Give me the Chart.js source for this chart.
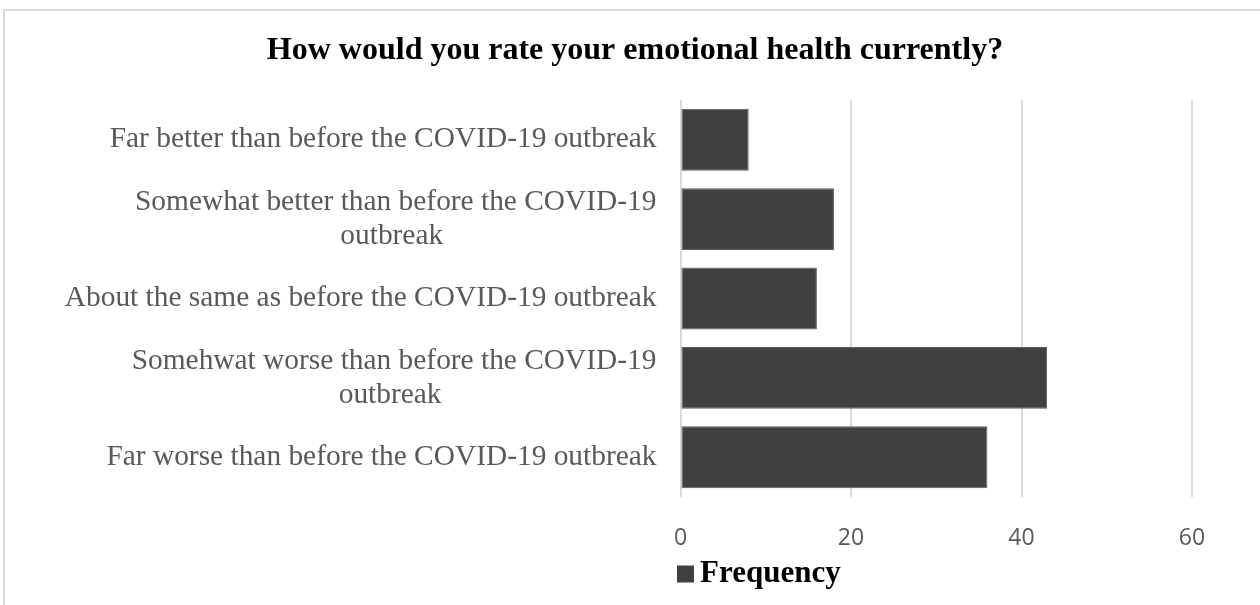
<!DOCTYPE html>
<html>
<head>
<meta charset="utf-8">
<script src="https://cdn.jsdelivr.net/npm/chart.js@4.4.1/dist/chart.umd.min.js"></script>
<style>
  html, body { margin: 0; padding: 0; background: #fff; }
  #wrap { width: 1260px; height: 605px; position: relative; }
</style>
</head>
<body>
<div id="wrap"><canvas id="chart" width="1260" height="605"></canvas></div>
<script>
// chart values
const titleText = "How would you rate your emotional health currently?";
const categories = [
  ["Far better than before the COVID-19 outbreak"],
  ["Somewhat better than before the COVID-19", "outbreak"],
  ["About the same as before the COVID-19 outbreak"],
  ["Somehwat worse than before the COVID-19", "outbreak"],
  ["Far worse than before the COVID-19 outbreak"]
];
const frequency = [8, 18, 16, 43, 36];
const seriesName = "Frequency";
const xTicks = [0, 20, 40, 60];

const barColor = "#404040";
const gridColor = "#d9d9d9";
const labelFont = "29.4px 'Liberation Serif', 'Times New Roman', serif";

// category labels: each label centred on its own widest line, right side at the axis
const categoryLabels = {
  id: "categoryLabels",
  afterDraw(chart) {
    const ctx = chart.ctx;
    const y = chart.scales.y;
    const right = chart.chartArea.left - 24;
    const lineH = 34;
    ctx.save();
    ctx.font = labelFont;
    ctx.fillStyle = "#595959";
    ctx.textAlign = "center";
    ctx.textBaseline = "middle";
    categories.forEach((lines, i) => {
      const widest = Math.max(...lines.map(l => ctx.measureText(l).width));
      const cx = right - widest / 2;
      const cy = y.getPixelForTick(i);
      const top = cy - (lines.length - 1) * lineH / 2;
      lines.forEach((l, k) => {
        // wrapped second lines sit a little left, as the first line keeps its trailing space
        const shift = (lines.length > 1 && k > 0) ? -4 : 0;
        ctx.fillText(l, cx + shift, top + k * lineH);
      });
    });
    ctx.restore();
  }
};

// border of the chart frame and the legend under the axis
const frameAndLegend = {
  id: "frameAndLegend",
  beforeDraw(chart) {
    const ctx = chart.ctx;
    ctx.save();
    ctx.strokeStyle = gridColor;
    ctx.lineWidth = 2;
    ctx.beginPath();
    ctx.moveTo(4, chart.height + 5);
    ctx.lineTo(4, 10);
    ctx.lineTo(chart.width + 5, 10);
    ctx.stroke();
    ctx.restore();
  },
  afterDraw(chart) {
    const ctx = chart.ctx;
    const x0 = chart.chartArea.left - 3.5;
    const cy = 574;
    ctx.save();
    ctx.fillStyle = barColor;
    ctx.fillRect(x0, cy - 8.5, 17, 17);
    ctx.fillStyle = "#000";
    ctx.font = "bold 31px 'Liberation Serif', 'Times New Roman', serif";
    ctx.textAlign = "left";
    ctx.textBaseline = "middle";
    ctx.fillText(chart.data.datasets[0].label, x0 + 23, cy);
    ctx.restore();
  }
};

new Chart(document.getElementById("chart").getContext("2d"), {
  type: "bar",
  data: {
    labels: categories,
    datasets: [{
      label: seriesName,
      data: frequency,
      backgroundColor: barColor,
      borderColor: "#5e5e5e",
      borderWidth: 1,
      borderSkipped: false,
      barPercentage: 0.78,
      categoryPercentage: 1
    }]
  },
  options: {
    indexAxis: "y",
    responsive: false,
    animation: false,
    layout: { padding: { left: 10, right: 0, top: 0, bottom: 53 } },
    plugins: {
      legend: { display: false },
      tooltip: { enabled: false },
      title: {
        display: true,
        text: titleText,
        color: "#000",
        font: { family: "'Liberation Serif', 'Times New Roman', serif", size: 32, weight: "bold" },
        padding: { top: 31.5, bottom: 30.1 }
      }
    },
    scales: {
      x: {
        position: "bottom",
        min: 0,
        max: 60,
        afterBuildTicks(s) { s.ticks = xTicks.map(v => ({ value: v })); },
        afterFit(s) { s.height = 55; },
        grid: { color: gridColor, lineWidth: 2, drawTicks: false },
        border: { display: false },
        ticks: {
          padding: 28,
          color: "#595959",
          font: { family: "'Open Sans', sans-serif", size: 23 }
        }
      },
      y: {
        position: "left",
        afterFit(s) { s.width = 670.5; },
        grid: { display: false },
        border: { display: false },
        ticks: { display: false }
      },
      yRight: {
        type: "linear",
        position: "right",
        afterFit(s) { s.width = 68; },
        grid: { display: false },
        border: { display: false },
        ticks: { display: false }
      }
    }
  },
  plugins: [categoryLabels, frameAndLegend]
});
</script>
</body>
</html>
